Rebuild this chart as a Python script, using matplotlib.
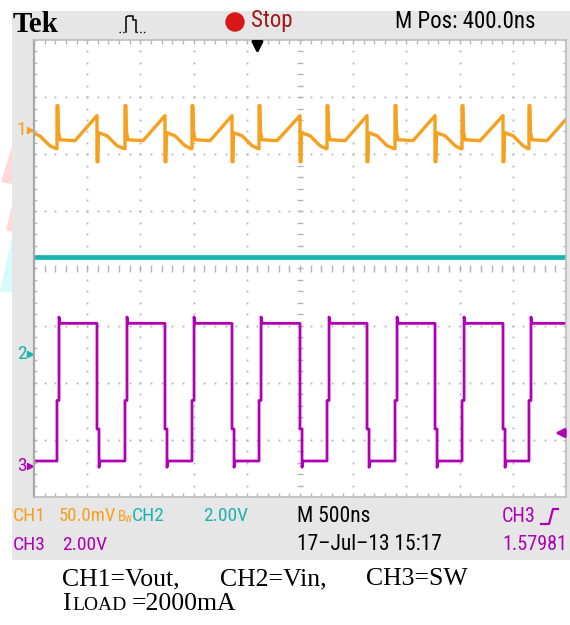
import matplotlib
matplotlib.use("Agg")
import matplotlib.pyplot as plt
from matplotlib import font_manager as fm
from matplotlib.patches import Rectangle, Circle, Polygon
import numpy as np

ORANGE = "#F5A01E"
CYAN = "#1BB3AE"
PURPLE = "#B000B6"
GRID = "#B4B4B4"

NS_PER_DIV = 500
# switching edges (ns from the left graticule edge)
rise_ns = [216, 855, 1485, 2115, 2754, 3393, 4023, 4652]
fall_ns = [-40, 592, 1231, 1861, 2500, 3130, 3769, 4408]

# CH1 = Vout ripple, 50 mV/div
ch1_offset_div = 2.43
ch1_mv_per_div = 50
ripple_fall_dt = [0, 0, 9, 14, 94, 188]
ripple_fall_mv = [12.3, -28, -28, -2.6, -5.3, -14]
ripple_pre_rise_mv = -16.6
ripple_rise_dt = [0, 9, 14, 28, 170]
ripple_rise_mv = [21, 21, -1.8, -8.8, -9.6]
ripple_pre_fall_mv = 12.3

# CH2 = Vin, 2 V/div
ch2_offset_div = -1.5
ch2_volts = 3.4
ch2_v_per_div = 2.0

# CH3 = SW, 2 V/div
ch3_offset_div = -3.46
ch3_v_per_div = 2.0
sw_high_v = 5.0
sw_low_v = 0.18
sw_rise_step_v = 2.3
sw_fall_step_v = 1.3
sw_overshoot_v = 0.22
trig_level_div = -2.88
trig_pos_ns = 2100


def narrow_font():
    # the scope uses a tall narrow font, take a condensed face if there is one
    prefs = [("robotocondensed", 1.0), ("roboto_condensed", 1.0), ("liberationsansnarrow", 1.05),
             ("dejavusanscondensed", 0.88), ("condensed", 0.92), ("narrow", 1.0)]
    files = [f.fname for f in fm.fontManager.ttflist]
    for key, k in prefs:
        for p in files:
            name = p.replace("-", "").replace(" ", "").lower().split("/")[-1]
            if key in name and not any(w in name for w in ("bold", "italic", "oblique", "light", "thin", "medium", "black")):
                return fm.FontProperties(fname=p), k
    return fm.FontProperties(family="Roboto"), 0.88


NFONT, NK = narrow_font()


def nfp(size):
    fp = NFONT.copy()
    fp.set_size(size * NK)
    return fp


def stext(x, y, s, color="black", size=14, **kw):
    bg.text(x, y, s, color=color, fontproperties=nfp(size), va="center", **kw)


# ---- build traces from the edges
ch1_t, ch1_mv = [], []
for i, f in enumerate(fall_ns):
    for dt, mv in zip(ripple_fall_dt, ripple_fall_mv):
        ch1_t.append(f + dt)
        ch1_mv.append(mv)
    r = rise_ns[i]
    ch1_t += [r - 10, r]
    ch1_mv += [ripple_pre_rise_mv, ripple_pre_rise_mv]
    for dt, mv in zip(ripple_rise_dt, ripple_rise_mv):
        ch1_t.append(r + dt)
        ch1_mv.append(mv)
    nf = fall_ns[i + 1] if i + 1 < len(fall_ns) else 5030
    ch1_t.append(nf)
    ch1_mv.append(ripple_pre_fall_mv)

sw_t, sw_v = [0], [sw_low_v]
for i, r in enumerate(rise_ns):
    sw_t += [r, r, r + 19, r + 19, r + 30]
    sw_v += [sw_low_v, sw_rise_step_v, sw_rise_step_v, sw_high_v + sw_overshoot_v, sw_high_v]
    if i + 1 < len(fall_ns):
        f = fall_ns[i + 1]
        sw_t += [f, f, f + 19, f + 19, f + 30]
        sw_v += [sw_high_v, sw_fall_step_v, sw_fall_step_v, sw_low_v - sw_overshoot_v, sw_low_v]
    else:
        sw_t.append(5000)
        sw_v.append(sw_high_v)

fig = plt.figure(figsize=(5.7, 6.25), dpi=100)
fig.patch.set_facecolor("white")

# background in pixel coordinates
bg = fig.add_axes([0, 0, 1, 1])
bg.set_xlim(0, 570)
bg.set_ylim(625, 0)
bg.axis("off")
bg.add_patch(Polygon([(1, 182), (12, 146), (12, 184)], color="#FFD9D9", lw=0))
bg.add_patch(Polygon([(6, 230), (12, 205), (12, 232)], color="#FFD9D9", lw=0))
bg.add_patch(Polygon([(0, 292), (12, 236), (12, 292)], color="#D6FBFB", lw=0))
bg.add_patch(Rectangle((12, 11), 560, 549, color="#E6E6E6", lw=0))

# header
bg.text(13, 25, "Tek", fontsize=21, fontweight="bold", family="Liberation Serif", va="center")
bg.plot([119, 126], [32, 32], color="black", lw=1, ls=":")
bg.plot([126, 126, 128, 133, 133, 136, 136], [32, 17, 16, 16, 20, 20, 32], color="black", lw=1.1)
bg.plot([136, 146], [32, 32], color="black", lw=1, ls=":")
bg.add_patch(Circle((235, 22), 9, color="#D81818"))
stext(251, 21, "Stop", color="#A01818", size=16.5)
stext(395, 21, "M Pos: 400.0ns", size=16.5)

# footer
r1, r2 = 516, 545
stext(13, r1, "CH1", ORANGE)
stext(59, r1, "50.0mV", ORANGE, size=13.5)
stext(118, r1 + 1, "B", ORANGE, size=10.5)
stext(125, r1 + 4, "W", ORANGE, size=6.5)
stext(132, r1, "CH2", CYAN)
stext(203, r1, "2.00V", CYAN)
stext(297, r1, "M 500ns", size=15.5)
stext(502, r1, "CH3", PURPLE, size=14.5)
bg.plot([541, 549, 553, 558], [524, 524, 509, 509], color=PURPLE, lw=1.6)
stext(13, r2, "CH3", PURPLE)
stext(62, r2, "2.00V", PURPLE)
stext(297, r2, "17\u2013Jul\u201313 15:17", size=15.5)
stext(567, r2, "1.57981", PURPLE, size=14.5, ha="right")

# caption
cap = dict(fontsize=18.5, family="Liberation Serif", va="center")
bg.text(62, 579, "CH1=Vout,", **cap)
bg.text(220, 579, "CH2=Vin,", **cap)
bg.text(366, 579, "CH3=SW", **cap)
bg.text(62, 604, "I", **cap)
bg.text(72, 605, "LOAD", fontsize=14, family="Liberation Serif", va="center")
bg.text(132, 604, "=2000mA", **cap)

# graticule
ax = fig.add_axes([34 / 570, (625 - 497) / 625, 532 / 570, 457 / 625])
ax.set_facecolor("white")
ax.set_xlim(0, 10)
ax.set_ylim(-4, 4)
ax.set_xticks([])
ax.set_yticks([])
for s in ax.spines.values():
    s.set_color("#BDBDBD")
    s.set_linewidth(1.2)
ax.spines["left"].set_color("#A8A8A8")
ax.spines["left"].set_linewidth(1.6)

xs_minor = np.arange(0, 10.001, 0.2)
ys_minor = np.arange(-4, 4.001, 0.2)
for gx in range(1, 10):
    if gx != 5:
        ax.plot([gx] * len(ys_minor), ys_minor, ls="none", marker="s", ms=1.3, mew=0, color=GRID)
for gy in range(-3, 4):
    if gy != 0:
        ax.plot(xs_minor, [gy] * len(xs_minor), ls="none", marker="s", ms=1.3, mew=0, color=GRID)
ax.vlines(xs_minor, -0.06, 0.06, color=GRID, lw=1)
ax.hlines(ys_minor, 4.94, 5.06, color=GRID, lw=1)
ax.vlines(xs_minor, 3.93, 4, color=GRID, lw=1)
ax.vlines(xs_minor, -4, -3.93, color=GRID, lw=1)
ax.hlines(ys_minor, 0, 0.06, color=GRID, lw=1)
ax.hlines(ys_minor, 9.94, 10, color=GRID, lw=1)

# traces
t_div = np.array(ch1_t) / NS_PER_DIV
ax.plot(t_div, ch1_offset_div + np.array(ch1_mv) / ch1_mv_per_div, color=ORANGE, lw=2.4)
ax.plot([0, 10], [ch2_offset_div + ch2_volts / ch2_v_per_div] * 2, color=CYAN, lw=3.4)
ax.plot(np.array(sw_t) / NS_PER_DIV, ch3_offset_div + np.array(sw_v) / ch3_v_per_div,
        color=PURPLE, lw=2.0)

# channel markers
for off, col, lab in [(ch1_offset_div, ORANGE, "1"), (ch2_offset_div, CYAN, "2"),
                      (ch3_offset_div, PURPLE, "3")]:
    ax.text(-0.14, off, lab, color=col, fontproperties=nfp(14), ha="right", va="center", clip_on=False)
    ax.plot([-0.08], [off], marker=">", ms=5, color=col, clip_on=False)

# trigger markers
ax.annotate("", xy=(9.74, trig_level_div), xytext=(10.0, trig_level_div),
            arrowprops=dict(arrowstyle="-|>", color=PURPLE, lw=2, mutation_scale=13))
ax.annotate("", xy=(trig_pos_ns / NS_PER_DIV, 3.71), xytext=(trig_pos_ns / NS_PER_DIV, 3.99),
            arrowprops=dict(arrowstyle="-|>", color="black", lw=2.2, mutation_scale=16))

fig.savefig("out.png", dpi=100)
